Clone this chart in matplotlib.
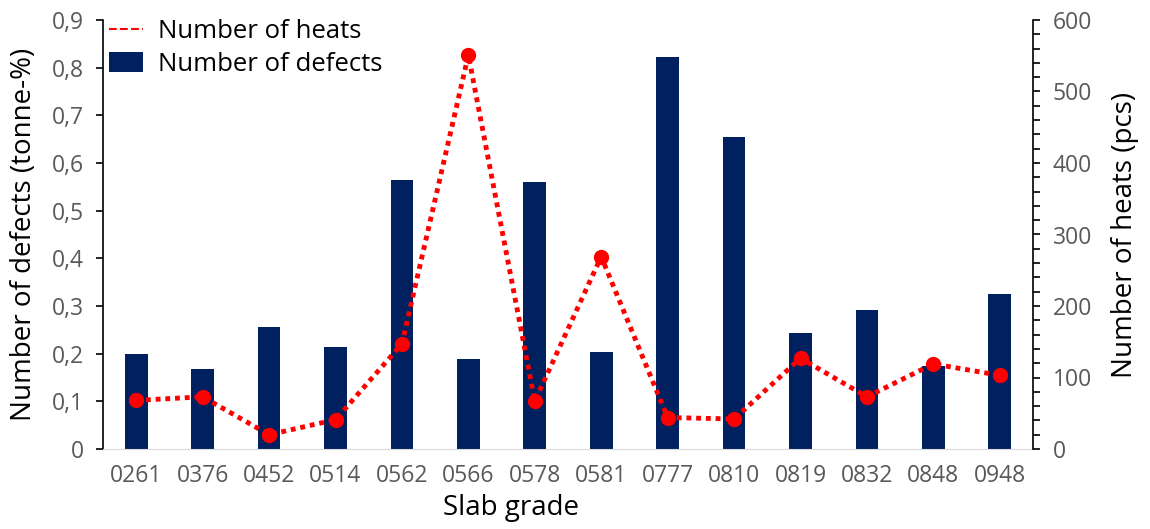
import matplotlib
matplotlib.use("Agg")
import matplotlib.pyplot as plt
from matplotlib.lines import Line2D
from matplotlib.patches import Patch
from matplotlib.ticker import MultipleLocator, FuncFormatter

plt.rcParams["font.family"] = ["Open Sans", "DejaVu Sans"]

# data
grades = ["0261", "0376", "0452", "0514", "0562", "0566", "0578",
          "0581", "0777", "0810", "0819", "0832", "0848", "0948"]
defects = [0.199, 0.167, 0.256, 0.213, 0.564, 0.189, 0.560,
           0.204, 0.822, 0.654, 0.243, 0.291, 0.175, 0.326]
heats = [68, 73, 20, 41, 147, 551, 67, 269, 44, 42, 127, 73, 119, 103]

bar_color = "#002060"
tick_color = "#595959"

fig = plt.figure(figsize=(11.5, 5.29), dpi=100)
ax = fig.add_axes([103 / 1150, 1 - 449 / 529, 930 / 1150, 429 / 529])
x = range(len(grades))
ax.bar(x, defects, width=0.34, color=bar_color, zorder=2)
ax.set_xlim(-0.5, len(grades) - 0.5)
ax.set_ylim(0, 0.9)
ax.yaxis.set_major_locator(MultipleLocator(0.1))
ax.yaxis.set_major_formatter(FuncFormatter(
    lambda v, p: "0" if abs(v) < 1e-9 else f"{v:.1f}".replace(".", ",")))
ax.set_xticks(list(x))
ax.set_xticklabels(grades)
ax.tick_params(axis="x", length=0, pad=11, labelsize=16.5, labelcolor=tick_color)
ax.tick_params(axis="y", length=5, width=1.2, pad=9, labelsize=16.5,
               labelcolor=tick_color)
ax.spines["top"].set_visible(False)
ax.spines["right"].set_visible(False)
ax.spines["bottom"].set_color("#d9d9d9")
ax.spines["left"].set_linewidth(1.2)
ax.set_ylabel("Number of defects (tonne-%)", fontsize=20, labelpad=10)

ax2 = ax.twinx()
ax2.plot(x, heats, color="red", linestyle=(0, (1, 1)), linewidth=3.5,
         marker="o", markersize=10, zorder=3)
ax2.set_ylim(0, 600)
ax2.yaxis.set_major_locator(MultipleLocator(100))
ax2.yaxis.set_minor_locator(MultipleLocator(20))
ax2.tick_params(axis="y", which="both", length=5, width=1.2, pad=9,
                labelsize=16.5, labelcolor=tick_color)
for s in ["top", "left", "bottom"]:
    ax2.spines[s].set_visible(False)
ax2.spines["right"].set_linewidth(1.2)
ax2.set_ylabel("Number of heats (pcs)", fontsize=20, labelpad=14)

fig.text(511 / 1150, 1 - 508 / 529, "Slab grade", fontsize=20,
         ha="center", va="center")

handles = [Line2D([0], [0], color="red", linestyle="--", linewidth=1.5),
           Patch(facecolor=bar_color)]
ax2.legend(handles, ["Number of heats", "Number of defects"],
           loc="upper left", bbox_to_anchor=(104 / 1150, 1 - 14 / 529),
           bbox_transform=fig.transFigure, frameon=False,
           fontsize=18.5, handlelength=1.3, handleheight=0.8,
           handletextpad=0.6, labelspacing=0.3, borderaxespad=0,
           borderpad=0.2)

fig.savefig("out.png", dpi=100)
